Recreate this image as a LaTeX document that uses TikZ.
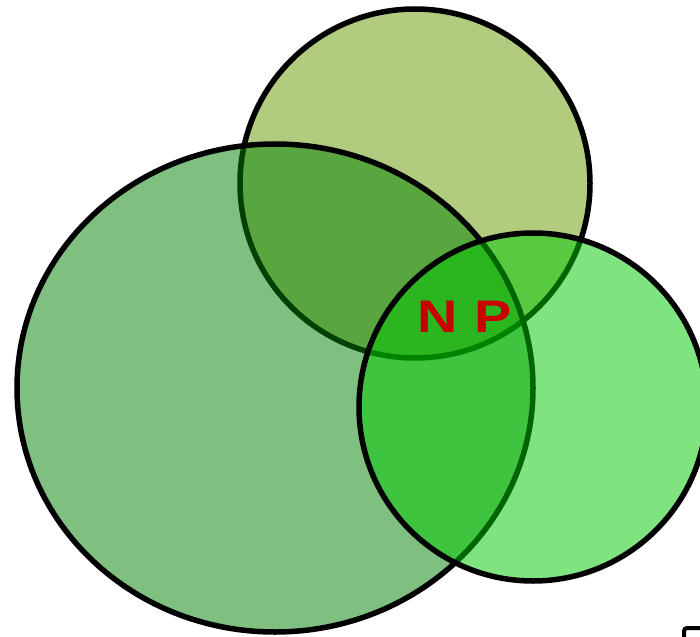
\documentclass[tikz,border=0pt]{standalone}
\usepackage{fontspec}
\setmainfont{Liberation Sans}
\definecolor{OliveGreen}{RGB}{102, 153, 0}
\definecolor{DeepGreen}{RGB}{0, 128, 0}
\definecolor{BrightGreen}{RGB}{0, 200, 0}
\definecolor{ClassRed}{RGB}{200, 0, 0}
\usetikzlibrary{positioning, shapes.geometric}

\begin{document}
\begin{tikzpicture}[
    every node/.style={inner sep=0pt, outer sep=0pt},
    set/.style={draw=black, line width=1.1mm, ellipse, fill opacity=0.5},
    settop/.style={set, fill=OliveGreen, minimum width=7cm, minimum height=6.98cm},
    setbig/.style={set, fill=DeepGreen, minimum width=10.32cm, minimum height=9.76cm},
    setright/.style={set, fill=BrightGreen, minimum width=6.96cm, minimum height=6.96cm}
]
\useasboundingbox (0,0) rectangle (14,12.72);
\clip (0,0) rectangle (14,12.72);
\node[settop] (top) at (8.30, 9.05) {};
\node[setbig] (big) at (5.50, 4.96) {};
\node[setright] (right) at (10.66, 4.58) {};
\node[font=\fontsize{26}{26}\selectfont\bfseries, text=ClassRed, xscale=1.22] (np) at (9.30, 6.39) {N\hspace{0.3em}P};
% piece of a frame in the lower right corner
\draw[line width=0.8mm, rounded corners=0.6mm] (13.68, -0.5) |- (14.5, 0.16);
\end{tikzpicture}
\end{document}
